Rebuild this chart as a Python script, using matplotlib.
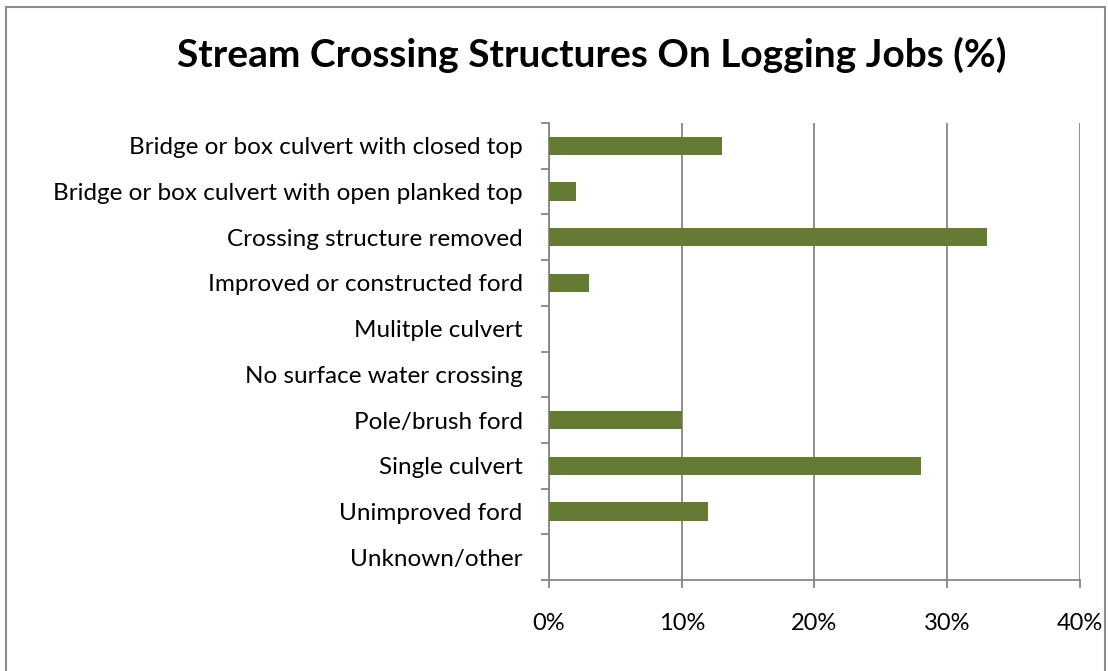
import numpy as np
import matplotlib
matplotlib.use('Agg')
import matplotlib.pyplot as plt
from matplotlib.patches import Rectangle
from matplotlib.ticker import FixedLocator, PercentFormatter

categories = ['Bridge or box culvert with closed top',
              'Bridge or box culvert with open planked top',
              'Crossing structure removed',
              'Improved or constructed ford',
              'Mulitple culvert',
              'No surface water crossing',
              'Pole/brush ford',
              'Single culvert',
              'Unimproved ford',
              'Unknown/other']
values = [13, 2, 33, 3, 0, 0, 10, 28, 12, 0]
x_ticks = [0, 10, 20, 30, 40]

plt.rcParams['font.family'] = ['Lato', 'DejaVu Sans']

fig = plt.figure(figsize=(11.08, 6.71), dpi=100)
ax = fig.add_axes([0.4955, 0.1356, 0.4792, 0.6811])

grid_col = '#868686'
bar_col = '#657B34'

y = np.arange(len(categories))
ax.barh(y, values, height=0.4, color=bar_col, zorder=3)
ax.set_ylim(len(categories) - 0.5, -0.5)
ax.set_xlim(0, 40)

ax.set_yticks(y)
ax.set_yticklabels(categories, fontsize=17.5)
ax.tick_params(axis='y', length=0, pad=19)
ax.yaxis.set_minor_locator(FixedLocator(np.arange(-0.5, len(categories), 1)))
ax.tick_params(axis='y', which='minor', length=6, width=1.3, color=grid_col)

ax.set_xticks(x_ticks)
ax.xaxis.set_major_formatter(PercentFormatter(decimals=0))
ax.tick_params(axis='x', length=6, width=1.3, color=grid_col, labelsize=17, pad=18)

ax.grid(axis='x', color=grid_col, linewidth=1.3, zorder=0)
for s in ['top', 'right']:
    ax.spines[s].set_visible(False)
for s in ['left', 'bottom']:
    ax.spines[s].set_color(grid_col)
    ax.spines[s].set_linewidth(1.3)

fig.text(0.534, 0.918, 'Stream Crossing Structures On Logging Jobs (%)',
         fontsize=28, fontweight='bold', ha='center', va='center')

fig.patches.append(Rectangle((0.005, -0.01), 0.992, 1.0, transform=fig.transFigure,
                             fill=False, edgecolor='#8c8c8c', linewidth=1.5))

fig.savefig('out.png', dpi=100)
